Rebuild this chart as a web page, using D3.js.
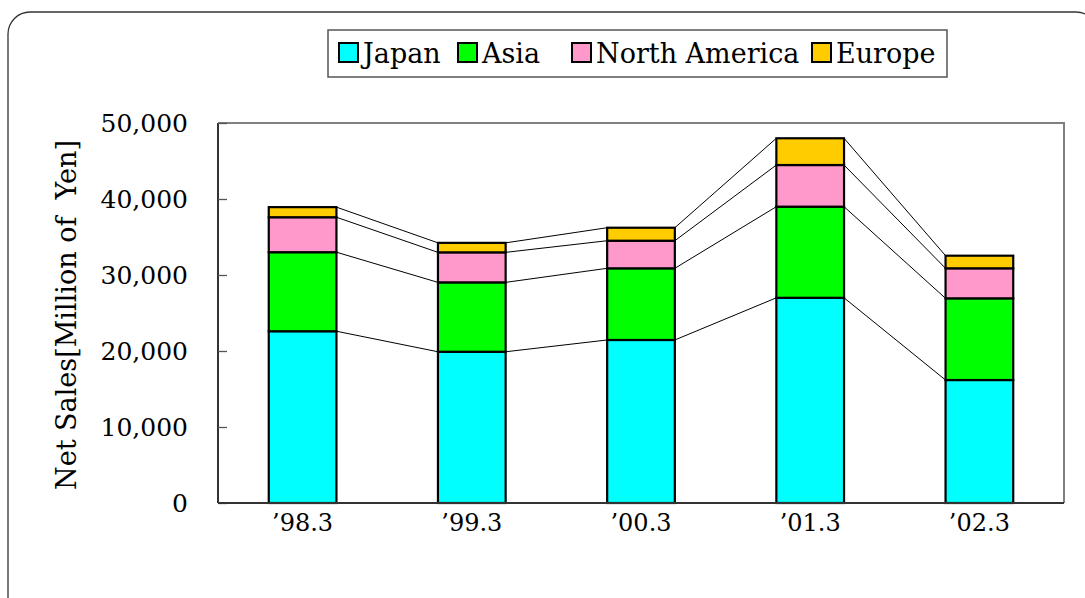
<!DOCTYPE html>
<html><head><meta charset="utf-8">
<script src="https://cdn.jsdelivr.net/npm/d3@7"></script>
<style>body{margin:0;background:#fff}svg{display:block}text{font-family:"DejaVu Serif","Liberation Serif",serif;fill:#000}</style>
</head><body>
<script>
const categories = ["’98.3", "’99.3", "’00.3", "’01.3", "’02.3"];
const seriesNames = ["Japan", "Asia", "North America", "Europe"];
const japan = [22600, 19900, 21450, 27000, 16180];
const asia = [10400, 9130, 9430, 11990, 10750];
const northAmerica = [4600, 3950, 3630, 5480, 3950];
const europe = [1330, 1250, 1710, 3520, 1660];
const colors = ["#00ffff", "#00ff00", "#ff99cc", "#ffcc00"];
const yTicks = [0, 10000, 20000, 30000, 40000, 50000];

const W = 1085, H = 598;
const svg = d3.select("body").append("svg").attr("width", W).attr("height", H);

// outer rounded border
svg.append("rect").attr("x", 8).attr("y", 12).attr("width", 1090).attr("height", 620)
  .attr("rx", 22).attr("fill", "none").attr("stroke", "#333").attr("stroke-width", 1.3);

const m = {l: 218, r: 1064, t: 123, b: 503};
const x = d3.scaleBand().domain(categories).range([m.l, m.r]).paddingInner(0.6).paddingOuter(0.3);
const y = d3.scaleLinear().domain([0, 50000]).range([m.b, m.t]);

const rows = categories.map((c, i) => ({cat: c, Japan: japan[i], Asia: asia[i], "North America": northAmerica[i], Europe: europe[i]}));
const stacked = d3.stack().keys(seriesNames)(rows);

// plot frame: top & right gray
svg.append("path").attr("d", `M${m.l},${m.t}H${m.r}V${m.b}`).attr("fill", "none").attr("stroke", "#808080").attr("stroke-width", 2);

// connector lines
stacked.forEach(s => {
  for (let i = 0; i < categories.length - 1; i++) {
    svg.append("line")
      .attr("x1", x(categories[i]) + x.bandwidth()).attr("y1", y(s[i][1]))
      .attr("x2", x(categories[i + 1])).attr("y2", y(s[i + 1][1]))
      .attr("stroke", "#000").attr("stroke-width", 1);
  }
});

// bars
stacked.forEach((s, k) => {
  svg.append("g").selectAll("rect").data(s).join("rect")
    .attr("x", d => x(d.data.cat)).attr("width", x.bandwidth())
    .attr("y", d => y(d[1])).attr("height", d => y(d[0]) - y(d[1]))
    .attr("fill", colors[k]).attr("stroke", "#000").attr("stroke-width", 2.2);
});

// y axis
const ya = svg.append("g").attr("transform", `translate(${m.l},0)`)
  .call(d3.axisLeft(y).tickValues(yTicks).tickSize(-9).tickPadding(30).tickFormat(d3.format(",")));
ya.select(".domain").attr("stroke", "#333").attr("stroke-width", 2).attr("d", `M0,${m.t}V${m.b}`);
ya.selectAll(".tick line").attr("stroke", "#555").attr("stroke-width", 1.3);
ya.selectAll("text").style("font-size", "25px").attr("fill", "#000");

// x axis
const xa = svg.append("g").attr("transform", `translate(0,${m.b})`)
  .call(d3.axisBottom(x).tickSize(0).tickPadding(11));
xa.select(".domain").attr("stroke", "#333").attr("stroke-width", 2).attr("d", `M${m.l},0H${m.r}`);
xa.selectAll("text").style("font-size", "24px").attr("fill", "#000");

// y label
svg.append("text").attr("transform", "translate(76,315) rotate(-90)")
  .attr("text-anchor", "middle").style("font-size", "27px")
  .attr("xml:space", "preserve").text("Net Sales[Million of  Yen]");

// legend
const lg = svg.append("g");
lg.append("rect").attr("x", 328).attr("y", 30).attr("width", 619).attr("height", 47)
  .attr("fill", "#fff").attr("stroke", "#555").attr("stroke-width", 1.5);
const legendX = [339, 458, 572, 812];
seriesNames.forEach((n, k) => {
  lg.append("rect").attr("x", legendX[k]).attr("y", 43).attr("width", 19).attr("height", 19)
    .attr("fill", colors[k]).attr("stroke", "#000").attr("stroke-width", 2);
  lg.append("text").attr("x", legendX[k] + 24).attr("y", 63).style("font-size", "27px").text(n);
});
</script>
</body></html>
